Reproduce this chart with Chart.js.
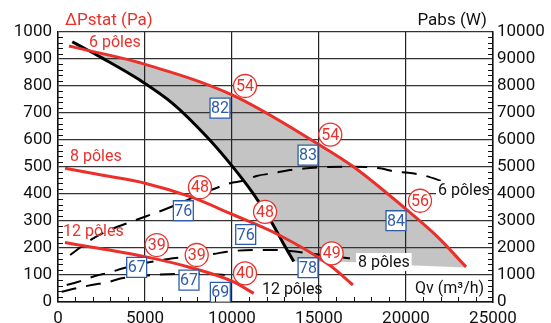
<!DOCTYPE html>
<html lang="fr">
<head>
<meta charset="UTF-8">
<title>Courbes ventilateur</title>
<script src="https://cdn.jsdelivr.net/npm/chart.js"></script>
<style>
  html, body { margin: 0; padding: 0; background: #fff; }
</style>
</head>
<body>
<canvas id="fanChart" width="551" height="323"></canvas>
<script>
const FONT = "Roboto, 'Liberation Sans', sans-serif";
const RED = '#e9302b';
const BLUE = '#2d5cab';

// pressure curves, [Qv m3/h, Pa]
const press6 = [[630,948],[1650,933],[4700,886],[10000,767],[15000,583],[17000,500],[20000,344],[21800,242],[23450,130]];
const press8 = [[400,495],[2500,470],[5000,440],[7600,390],[10000,325],[12700,248],[15600,137],[16950,63]];
const press12 = [[400,220],[2500,197],[5000,168],[7600,128],[10000,77],[11250,32]];
const limitCurve = [[820,964],[1650,935],[2500,905],[4700,822],[6600,735],[8550,612],[10000,504],[11200,403],[12200,304],[12950,217],[13550,150]];
const zoneBottom = [[13550,150],[16200,149],[19800,137],[23450,128]];

// absorbed power, [Qv m3/h, W]
const power6 = [[700,1740],[1950,2330],[3000,2680],[4330,3000],[6340,3480],[8740,4130],[9890,4400],[10650,4490],[11420,4670],[12380,4770],[13330,4890],[14290,4950],[15060,4990],[17000,5010],[18500,4950],[19370,4830],[20130,4790],[21000,4690],[22200,4450]];
const power8 = [[500,630],[1170,750],[2130,960],[3000,1100],[3750,1250],[5390,1490],[6340,1590],[8930,1780],[9690,1860],[10270,1900],[11420,1926],[12380,1926],[13330,1890],[14500,1800],[16200,1655],[16780,1620]];
const power12 = [[210,380],[785,470],[1935,630],[2890,740],[3660,876],[4425,937],[5385,1000],[6340,1030],[7500,1045],[8900,1030],[9700,1000],[10500,960]];

// sound level (circles) and efficiency (boxes), [Qv, Pa, value]
const soundLevels = [[10750,800,'54'],[15650,620,'54'],[20805,375,'56'],[8160,425,'48'],[11900,334,'48'],[15727,180,'49'],[5672,211,'39'],[7972,174,'39'],[10747,106,'40']];
const efficiencies = [[9310,718,'82'],[14370,544,'83'],[19425,301,'84'],[7203,338,'76'],[10787,250,'76'],[14370,127,'78'],[4521,128,'67'],[7529,81,'67'],[9330,36,'69']];

const curveLabels = [
  { text: '6 pôles', x: 1780, y: 963, color: RED },
  { text: '8 pôles', x: 690, y: 541, color: RED },
  { text: '12 pôles', x: 290, y: 263, color: RED },
  { text: '6 pôles', x: 21840, y: 415, color: '#111', bg: true },
  { text: '8 pôles', x: 17240, y: 148, color: '#111', bg: true },
  { text: '12 pôles', x: 11720, y: 48, color: '#111' },
  { text: 'Qv (m³/h)', x: 20520, y: 52, color: '#111', bg: true }
];

const pts = arr => arr.map(p => ({ x: p[0], y: p[1] }));

function curve(data, color, extra) {
  return Object.assign({
    data: pts(data), showLine: true, borderColor: color, borderWidth: 3,
    pointRadius: 0, fill: false, cubicInterpolationMode: 'monotone', order: 5
  }, extra || {});
}

// shaded working zone: between 6 poles curve and limit curve
const zoneTop = press6.filter(p => p[0] >= 1650);
const zoneLow = limitCurve.filter(p => p[0] >= 1650).concat(zoneBottom.slice(1));

const decor = {
  id: 'decor',
  afterDatasetsDraw(chart) {
    const { ctx, scales: { x, y } } = chart;
    ctx.save();
    ctx.textBaseline = 'middle';
    ctx.textAlign = 'center';
    ctx.font = '16px ' + FONT;
    soundLevels.forEach(p => {
      ctx.fillStyle = RED;
      ctx.fillText(p[2], x.getPixelForValue(p[0]), y.getPixelForValue(p[1]) + 1);
    });
    efficiencies.forEach(p => {
      ctx.fillStyle = BLUE;
      ctx.fillText(p[2], x.getPixelForValue(p[0]), y.getPixelForValue(p[1]) + 1);
    });
    ctx.textAlign = 'left';
    curveLabels.forEach(l => {
      const px = x.getPixelForValue(l.x), py = y.getPixelForValue(l.y);
      if (l.bg) {
        const w = ctx.measureText(l.text).width;
        ctx.fillStyle = '#fff';
        ctx.fillRect(px - 2, py - 9, w + 4, 18);
      }
      ctx.fillStyle = l.color;
      ctx.fillText(l.text, px, py + 1);
    });
    ctx.restore();
  },
  afterDraw(chart) {
    const { ctx, chartArea: a, scales: { x, y, y2 } } = chart;
    ctx.save();
    ctx.strokeStyle = '#111';
    ctx.lineWidth = 1;
    ctx.beginPath();
    for (let v = 20; v < 1000; v += 20) {
      if (v % 100 === 0) continue;
      const py = Math.round(y.getPixelForValue(v)) + 0.5;
      ctx.moveTo(a.left, py); ctx.lineTo(a.left + 5, py);
    }
    for (let v = 200; v < 10000; v += 200) {
      if (v % 1000 === 0) continue;
      const py = Math.round(y2.getPixelForValue(v)) + 0.5;
      ctx.moveTo(a.right, py); ctx.lineTo(a.right - 5, py);
    }
    for (let v = 1000; v < 25000; v += 1000) {
      if (v % 5000 === 0) continue;
      const px = Math.round(x.getPixelForValue(v)) + 0.5;
      ctx.moveTo(px, a.bottom); ctx.lineTo(px, a.bottom - 5);
    }
    ctx.stroke();
    // axis titles
    ctx.font = '17px ' + FONT;
    ctx.textBaseline = 'alphabetic';
    ctx.fillStyle = RED;
    ctx.textAlign = 'left';
    ctx.fillText('ΔPstat (Pa)', 65, 25);
    ctx.fillStyle = '#111';
    ctx.textAlign = 'right';
    ctx.fillText('Pabs (W)', 487, 25);
    ctx.restore();
  }
};

const tickFont = { family: FONT, size: 17 };

new Chart(document.getElementById('fanChart'), {
  type: 'line',
  data: {
    datasets: [
      curve(zoneLow, 'rgba(0,0,0,0)', { borderWidth: 1, order: 9, fill: 1, backgroundColor: '#c4c4c4' }),
      curve(zoneTop, 'rgba(0,0,0,0)', { borderWidth: 1, order: 9 }),
      curve(press6, RED),
      curve(press8, RED),
      curve(press12, RED),
      curve(limitCurve, '#000'),
      curve(power6, '#000', { yAxisID: 'y2', borderWidth: 2, borderDash: [15, 10] }),
      curve(power8, '#000', { yAxisID: 'y2', borderWidth: 2, borderDash: [15, 10] }),
      curve(power12, '#000', { yAxisID: 'y2', borderWidth: 2, borderDash: [15, 10] }),
      { data: pts(soundLevels), showLine: false, pointStyle: 'circle', pointRadius: 11.5, pointBackgroundColor: '#fff',
        pointBorderColor: RED, pointBorderWidth: 1.3, order: 1 },
      { data: pts(efficiencies), showLine: false, pointStyle: 'rect', pointRadius: 14.1, pointBackgroundColor: '#fff',
        pointBorderColor: BLUE, pointBorderWidth: 1.3, order: 1 }
    ]
  },
  options: {
    responsive: false,
    animation: false,
    events: [],
    layout: { padding: { top: 32, left: 0, right: 0, bottom: 0 } },
    plugins: {
      legend: { display: false },
      tooltip: { enabled: false },
      filler: { drawTime: 'beforeDraw' }
    },
    scales: {
      x: {
        type: 'linear', min: 0, max: 25000,
        ticks: { stepSize: 5000, font: tickFont, color: '#111', padding: 7, maxRotation: 0, callback: v => v },
        grid: { color: '#222', lineWidth: 1.2, drawTicks: false },
        border: { color: '#111', width: 1.5 },
        afterFit: s => { s.height = 21; }
      },
      y: {
        position: 'left', min: 0, max: 1000,
        ticks: { stepSize: 100, font: tickFont, color: '#111', padding: 6, callback: v => v },
        grid: { color: '#333', lineWidth: 1.2, drawTicks: false },
        border: { color: '#111', width: 1.5 },
        afterFit: s => { s.width = 58; }
      },
      y2: {
        position: 'right', min: 0, max: 10000,
        ticks: { stepSize: 1000, font: tickFont, color: '#111', padding: 4, callback: v => v },
        grid: { drawOnChartArea: false, drawTicks: false },
        border: { color: '#111', width: 1.5 },
        afterFit: s => { s.width = 58; }
      }
    }
  },
  plugins: [decor]
});
</script>
</body>
</html>
